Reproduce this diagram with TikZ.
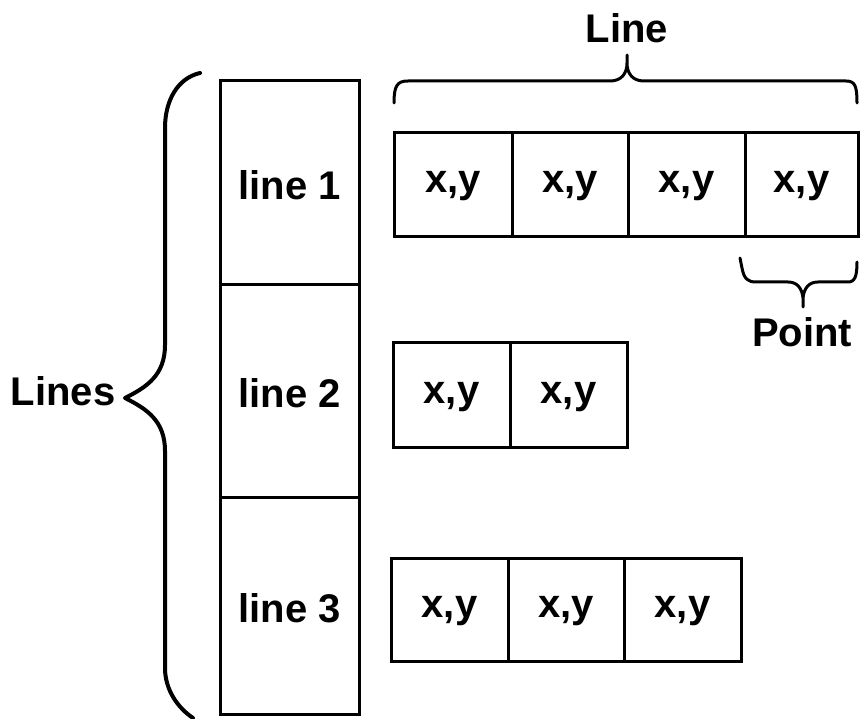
\documentclass[tikz,border=0pt]{standalone}
\usepackage{fontspec}
\setmainfont{Liberation Sans}
\begin{document}
\begin{tikzpicture}[x=1pt,y=-1pt,
  txt/.style={font=\fontsize{40}{48}\selectfont\bfseries},
  lbl/.style={txt, inner sep=0pt, anchor=base},
  cell/.style={draw, line width=3pt, inner sep=0pt, outer sep=0pt, txt,
    text height=16pt, text depth=0pt},
  colcell/.style={cell, minimum width=139pt, text height=34pt},
  bracepath/.style={draw, line width=3pt, line cap=round, line join=round}]
\useasboundingbox (0,0) rectangle (860,719);

% left column: one cell per line
\node[colcell, minimum height=204pt] (c1) at (289.5,183) {line 1};
\node[colcell, minimum height=212pt] (c2) at (289.5,391) {line 2};
\node[colcell, minimum height=217pt] (c3) at (289.5,605.5) {line 3};

% points of line 1
\node[cell, minimum width=118pt, minimum height=104pt] (a1) at (453,185) {x,y};
\node[cell, minimum width=116pt, minimum height=104pt] (a2) at (570,185) {x,y};
\node[cell, minimum width=117pt, minimum height=104pt] (a3) at (686.5,185) {x,y};
\node[cell, minimum width=113pt, minimum height=104pt] (a4) at (801.5,185) {x,y};

% points of line 2
\node[cell, minimum width=117pt, minimum height=104pt] (b1) at (451.5,395) {x,y};
\node[cell, minimum width=117pt, minimum height=104pt] (b2) at (568.5,395) {x,y};

% points of line 3
\node[cell, minimum width=117pt, minimum height=103pt] (d1) at (449.5,609.5) {x,y};
\node[cell, minimum width=116pt, minimum height=103pt] (d2) at (566,609.5) {x,y};
\node[cell, minimum width=117pt, minimum height=103pt] (d3) at (682.5,609.5) {x,y};

% labels
\node[lbl] (linelbl) at (627,43) {Line};
\node[lbl] (pointlbl) at (802,347) {Point};
\node[lbl] (lineslbl) at (63,406) {Lines};

% brace over the first line
\path[bracepath] (394,103) .. controls (394,86) and (397,81) .. (408,81) -- (610,81)
  .. controls (621,81) and (627,74) .. (627,63) -- (627,55)
  (627,63) .. controls (627,74) and (633,81) .. (644,81) -- (846,81)
  .. controls (855,81) and (857,86) .. (857,103);

% brace under the last point
\path[bracepath] (740,258) -- (742,268) .. controls (744,279) and (748,282) .. (756,282)
  -- (788,282) .. controls (797,282) and (802,288) .. (803,298) -- (803,307)
  (803,298) .. controls (804,288) and (809,282) .. (818,282) -- (848,282)
  .. controls (855,282) and (857,276) .. (857,262);

% brace along the column of lines
\path[bracepath, line width=4pt] (200,73) .. controls (178,78) and (165,100) .. (165,128)
  -- (165,345) .. controls (165,375) and (147,387) .. (125,398)
  .. controls (147,409) and (165,421) .. (165,451)
  -- (165,668) .. controls (165,690) and (178,708) .. (193,718);
\end{tikzpicture}
\end{document}
